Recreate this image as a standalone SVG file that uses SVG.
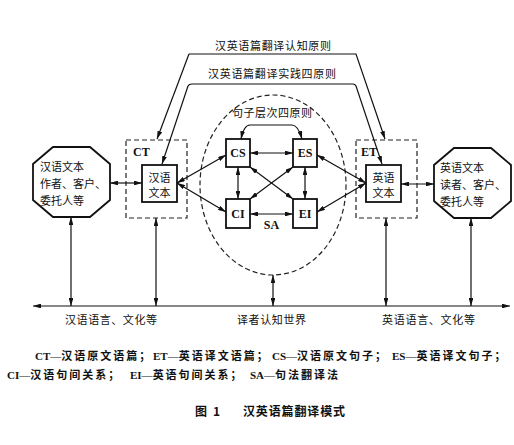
<svg xmlns="http://www.w3.org/2000/svg" width="514" height="445" viewBox="0 0 514 445">
<style>
.box{fill:#fff;stroke:#111;stroke-width:1.8}
.dash{fill:none;stroke:#222;stroke-width:1.2;stroke-dasharray:5 3}
.ln{fill:none;stroke:#111;stroke-width:1.2}
.cj{font-family:"Noto Sans CJK SC",sans-serif;font-size:11px;fill:#111}
.lt{font-family:"Liberation Serif","Noto Sans CJK SC",serif;font-size:12px;font-weight:bold;fill:#111}
.lg{font-family:"Liberation Serif","Noto Sans CJK SC",serif;font-size:11px;font-weight:bold;fill:#111}
.lc{font-family:"Noto Sans CJK SC",sans-serif;letter-spacing:2px}
.cap{font-family:"Noto Sans CJK SC",sans-serif;font-size:12px;font-weight:bold;fill:#111}
</style>
<defs>
<marker id="a" viewBox="0 0 10 6" refX="10" refY="3" markerWidth="8" markerHeight="4.8" markerUnits="userSpaceOnUse" orient="auto-start-reverse"><path d="M0,0 L10,3 L0,6 z" fill="#111"/></marker>
</defs>
<rect width="514" height="445" fill="#fff"/>

<g id="ellipse">
<ellipse cx="273" cy="185" rx="73" ry="90" class="dash"/>
<text x="272" y="117" class="cj" text-anchor="middle" textLength="80">句子层次四原则</text>
</g>

<g id="ct-box">
<rect x="126" y="140" width="61" height="78" class="dash"/>
<text x="133" y="156" class="lt" font-size="11">CT</text>
</g>
<g id="et-box">
<rect x="356" y="140" width="61" height="78" class="dash"/>
<text x="361" y="156" class="lt" font-size="11">ET</text>
</g>

<g id="chinese-author">
<polygon points="53,147 90,147 110,164 110,200 90,217 53,217 33,200 33,164" class="box"/>
<text x="40" y="171" class="cj">汉语文本</text>
<text x="40" y="188" class="cj">作者、客户、</text>
<text x="40" y="205" class="cj">委托人等</text>
</g>
<g id="english-reader">
<polygon points="454,148 491,148 511,165 511,201 491,218 454,218 434,201 434,165" class="box"/>
<text x="440" y="172" class="cj">英语文本</text>
<text x="440" y="189" class="cj">读者、客户、</text>
<text x="440" y="206" class="cj">委托人等</text>
</g>

<g id="chinese-text">
<rect x="142" y="165" width="35" height="37" class="box"/>
<text x="159.5" y="182" class="cj" font-size="12" text-anchor="middle">汉语</text>
<text x="159.5" y="197" class="cj" font-size="12" text-anchor="middle">文本</text>
</g>
<g id="english-text">
<rect x="366" y="165" width="35" height="37" class="box"/>
<text x="383.5" y="182" class="cj" font-size="12" text-anchor="middle">英语</text>
<text x="383.5" y="197" class="cj" font-size="12" text-anchor="middle">文本</text>
</g>

<g id="CS"><rect x="226" y="139" width="24" height="28" class="box"/><text x="238" y="157" class="lt" text-anchor="middle">CS</text></g>
<g id="ES"><rect x="293" y="139" width="24" height="28" class="box"/><text x="305" y="157" class="lt" text-anchor="middle">ES</text></g>
<g id="CI"><rect x="226" y="199" width="24" height="29" class="box"/><text x="238" y="218" class="lt" text-anchor="middle">CI</text></g>
<g id="EI"><rect x="293" y="199" width="24" height="29" class="box"/><text x="305" y="218" class="lt" text-anchor="middle">EI</text></g>

<g id="connectors" class="ln" marker-start="url(#a)" marker-end="url(#a)">
<path d="M110,183 L142,183"/>
<path d="M401,184 L434,184"/>
<path d="M177,183 L226,155"/>
<path d="M177,183 L226,212"/>
<path d="M317,155 L366,183"/>
<path d="M317,212 L366,183"/>
<path d="M250,153 L293,153"/>
<path d="M250,214 L293,214"/>
<path d="M238,167 L238,199"/>
<path d="M305,167 L305,199"/>
<path d="M250,167 L293,199"/>
<path d="M293,167 L250,199"/>
<path d="M241,139 Q244,125 250,125 L292,125 Q298,125 302,139"/>
<path d="M71,217 L71,306"/>
<path d="M156,218 L156,306"/>
<path d="M273,275 L273,306"/>
<path d="M386,218 L386,306"/>
<path d="M471,218 L471,306"/>
<path d="M33,306 L510,306"/>
<path d="M189,54 L356,54 L385,139" marker-start="none"/>
<path d="M188,86 Q189,84 192,84 L353,84 Q355,84 356,86 L382,164" marker-start="none"/>
<path d="M189,54 L157,139" marker-start="none"/>
<path d="M188,86 L162,164" marker-start="none"/>
</g>

<g id="labels">
<text x="215" y="50" class="cj" textLength="116">汉英语篇翻译认知原则</text>
<text x="208" y="78" class="cj" textLength="128">汉英语篇翻译实践四原则</text>
<text x="271.5" y="229" class="lt" text-anchor="middle" font-size="11">SA</text>
<text x="65" y="324" class="cj" textLength="92">汉语语言、文化等</text>
<text x="237" y="324" class="cj" textLength="69">译者认知世界</text>
<text x="382" y="324" class="cj" textLength="93">英语语言、文化等</text>
</g>

<g id="legend">
<text y="360" class="lg"><tspan x="35">CT—</tspan><tspan class="lc">汉语原文语篇；</tspan><tspan x="153">ET—</tspan><tspan class="lc">英语译文语篇；</tspan><tspan x="272">CS—</tspan><tspan class="lc">汉语原文句子；</tspan><tspan x="392">ES—</tspan><tspan class="lc">英语译文句子；</tspan></text>
<text y="379" class="lg"><tspan x="7">CI—</tspan><tspan class="lc">汉语句间关系；</tspan><tspan x="130">EI—</tspan><tspan class="lc">英语句间关系；</tspan><tspan x="250">SA—</tspan><tspan class="lc">句法翻译法</tspan></text>
<text x="195" y="416" class="cap" textLength="25">图 1</text>
<text x="243" y="416" class="cap" textLength="102">汉英语篇翻译模式</text>
</g>
</svg>
